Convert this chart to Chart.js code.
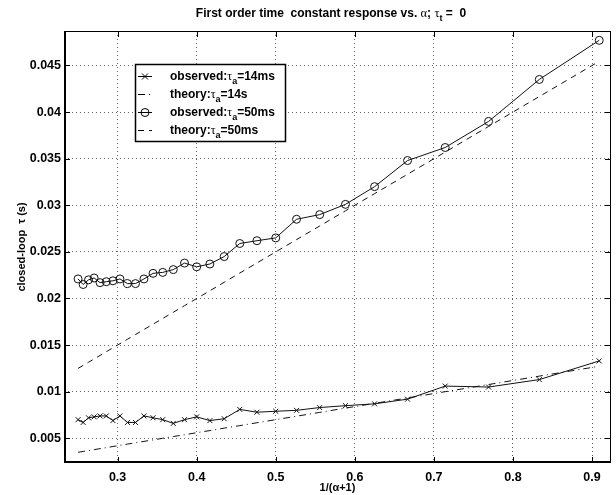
<!DOCTYPE html>
<html lang="en">
<head>
  <meta charset="UTF-8" />
  <title>First order time constant response</title>
  <script src="https://cdn.jsdelivr.net/npm/chart.js"></script>
  <style>
    html, body { margin: 0; padding: 0; background: #fff; }
    canvas { display: block; }
  </style>
</head>
<body>
  <canvas id="tauChart" width="616" height="495"></canvas>

  <script>
    // x = 1/(alpha+1), alpha = 3.0 ... 0.1
    const xVals = [0.25, 0.2564, 0.2632, 0.2703, 0.2778, 0.2857, 0.2941, 0.3030, 0.3125, 0.3226,
                   0.3333, 0.3448, 0.3571, 0.3704, 0.3846, 0.4, 0.4167, 0.4348, 0.4545, 0.4762,
                   0.5, 0.5263, 0.5556, 0.5882, 0.625, 0.6667, 0.7143, 0.7692, 0.8333, 0.9091];

    const observed14 = [0.0070, 0.0067, 0.0072, 0.0073, 0.0074, 0.0074, 0.0069, 0.0074, 0.0067, 0.0067,
                        0.0074, 0.0072, 0.0070, 0.0066, 0.0070, 0.0073, 0.0069, 0.0071, 0.0081, 0.0078,
                        0.0079, 0.0080, 0.0083, 0.0085, 0.0087, 0.0092, 0.0106, 0.0105, 0.0113, 0.0133];

    const theory14 = [0.0035, 0.00359, 0.00368, 0.00378, 0.00389, 0.0040, 0.00412, 0.00424, 0.00438, 0.00452,
                      0.00467, 0.00483, 0.0050, 0.00519, 0.00538, 0.0056, 0.00583, 0.00609, 0.00636, 0.00667,
                      0.0070, 0.00737, 0.00778, 0.00824, 0.00875, 0.00933, 0.0100, 0.01077, 0.01167, 0.01273];

    const observed50 = [0.0221, 0.0215, 0.0220, 0.0222, 0.0217, 0.0218, 0.0219, 0.0221, 0.0216, 0.0216,
                        0.0221, 0.0227, 0.0228, 0.0231, 0.0238, 0.0234, 0.0237, 0.0245, 0.0259, 0.0262,
                        0.0265, 0.0285, 0.0290, 0.0301, 0.0320, 0.0348, 0.0362, 0.0390, 0.0435, 0.0477];

    const theory50 = [0.0125, 0.01282, 0.01316, 0.01351, 0.01389, 0.01429, 0.01471, 0.01515, 0.01563, 0.01613,
                      0.01667, 0.01724, 0.01786, 0.01852, 0.01923, 0.0200, 0.02083, 0.02174, 0.02273, 0.02381,
                      0.0250, 0.02632, 0.02778, 0.02941, 0.03125, 0.03333, 0.03571, 0.03846, 0.04167, 0.04545];

    const xTicks = [0.3, 0.4, 0.5, 0.6, 0.7, 0.8, 0.9];
    const xTickLabels = ['0.3', '0.4', '0.5', '0.6', '0.7', '0.8', '0.9'];
    const yTicks = [0.005, 0.01, 0.015, 0.02, 0.025, 0.03, 0.035, 0.04, 0.045];
    const yTickLabels = ['0.005', '0.01', '0.015', '0.02', '0.025', '0.03', '0.035', '0.04', '0.045'];

    const SANS = "'Liberation Sans', Arial, Helvetica, sans-serif";
    const GREEK = "'Liberation Serif', 'DejaVu Serif', serif";

    const pts = ys => xVals.map((x, i) => ({ x: x, y: ys[i] }));

    // draws runs of text with different fonts / baseline shifts, returns end x
    function drawRich(ctx, parts, x, y) {
      parts.forEach(p => {
        ctx.font = p.font;
        ctx.fillText(p.t, x, y + (p.dy || 0));
        x += ctx.measureText(p.t).width;
      });
      return x;
    }
    function richWidth(ctx, parts) {
      let w = 0;
      parts.forEach(p => { ctx.font = p.font; w += ctx.measureText(p.t).width; });
      return w;
    }

    function drawMarker(ctx, style, x, y) {
      ctx.beginPath();
      if (style === 'crossRot') {
        const r = 3;
        ctx.moveTo(x - r, y - r); ctx.lineTo(x + r, y + r);
        ctx.moveTo(x - r, y + r); ctx.lineTo(x + r, y - r);
      } else {
        ctx.arc(x, y, 4, 0, Math.PI * 2);
      }
      ctx.stroke();
    }

    const legendItems = [
      { name: 'observed:', sub: 'a', rest: '=14ms', dash: [], marker: 'crossRot' },
      { name: 'theory:', sub: 'a', rest: '=14s', dash: [7, 4, 1, 4], marker: null },
      { name: 'observed:', sub: 'a', rest: '=50ms', dash: [], marker: 'circle' },
      { name: 'theory:', sub: 'a', rest: '=50ms', dash: [6, 5], marker: null }
    ];

    const matlabFrame = {
      id: 'matlabFrame',
      afterDatasetsDraw(chart) {
        const { ctx, chartArea: a, scales } = chart;
        ctx.save();
        ctx.strokeStyle = '#000';
        ctx.setLineDash([]);
        ctx.lineWidth = 1;
        ctx.strokeRect(a.left + 0.5, a.top + 0.5, a.right - a.left - 1, a.bottom - a.top - 1);
        ctx.lineWidth = 2;
        ctx.beginPath();
        ctx.moveTo(a.left + 1, a.top); ctx.lineTo(a.left + 1, a.bottom);
        ctx.moveTo(a.left, a.bottom - 1); ctx.lineTo(a.right, a.bottom - 1);
        ctx.stroke();
        ctx.lineWidth = 1;
        ctx.beginPath();
        xTicks.forEach(v => {
          const px = Math.round(scales.x.getPixelForValue(v)) + 0.5;
          ctx.moveTo(px, a.bottom); ctx.lineTo(px, a.bottom - 6);
          ctx.moveTo(px, a.top); ctx.lineTo(px, a.top + 6);
        });
        yTicks.forEach(v => {
          const py = Math.round(scales.y.getPixelForValue(v)) + 0.5;
          ctx.moveTo(a.left, py); ctx.lineTo(a.left + 6, py);
          ctx.moveTo(a.right, py); ctx.lineTo(a.right - 6, py);
        });
        ctx.stroke();
        ctx.restore();
      },
      afterDraw(chart) {
        const ctx = chart.ctx;
        ctx.save();
        ctx.fillStyle = '#000';
        ctx.textBaseline = 'alphabetic';
        ctx.textAlign = 'left';

        // title with greek letters and subscript
        const tb = 'bold 12px ' + SANS;
        const titleParts = [
          { t: 'First order time  constant response vs. ', font: tb },
          { t: 'α', font: '12.5px ' + GREEK },
          { t: '; ', font: tb },
          { t: 'τ', font: '12.5px ' + GREEK },
          { t: 't', font: 'bold 9px ' + SANS, dy: 4 },
          { t: ' =  0', font: tb }
        ];
        const tw = richWidth(ctx, titleParts);
        drawRich(ctx, titleParts, 331 - tw / 2, 17);

        // legend box
        const bx = 135.5, by = 64.5, bw = 150, bh = 77;
        ctx.fillStyle = '#fff';
        ctx.fillRect(bx, by, bw, bh);
        ctx.strokeStyle = '#000';
        ctx.lineWidth = 1.5;
        ctx.strokeRect(bx, by, bw, bh);
        ctx.fillStyle = '#000';
        ctx.lineWidth = 1;
        const rowY = [76, 94, 112, 130];
        legendItems.forEach((it, i) => {
          const y = rowY[i];
          ctx.setLineDash(it.dash);
          ctx.beginPath();
          ctx.moveTo(138, y + 0.5); ctx.lineTo(152, y + 0.5);
          ctx.stroke();
          ctx.setLineDash([]);
          if (it.marker) drawMarker(ctx, it.marker, 145, y + 0.5);
          drawRich(ctx, [
            { t: it.name, font: 'bold 12px ' + SANS },
            { t: 'τ', font: '12px ' + GREEK },
            { t: it.sub, font: 'bold 9px ' + SANS, dy: 4 },
            { t: it.rest, font: 'bold 12px ' + SANS }
          ], 170, y + 4);
        });
        ctx.restore();
      }
    };

    const lineBase = { borderColor: '#111', backgroundColor: 'rgba(0,0,0,0)', borderWidth: 1, fill: false, tension: 0 };

    const ctx = document.getElementById('tauChart').getContext('2d');
    const chart = new Chart(ctx, {
      type: 'line',
      data: {
        datasets: [
          Object.assign({}, lineBase, {
            label: 'observed: τa=14ms', data: pts(observed14),
            pointStyle: 'crossRot', pointRadius: 3.5, pointBorderWidth: 1,
            pointBorderColor: '#111', pointBackgroundColor: 'rgba(0,0,0,0)'
          }),
          Object.assign({}, lineBase, {
            label: 'theory: τa=14s', data: pts(theory14),
            borderDash: [7, 4, 1, 4], pointRadius: 0
          }),
          Object.assign({}, lineBase, {
            label: 'observed: τa=50ms', data: pts(observed50),
            pointStyle: 'circle', pointRadius: 4, pointBorderWidth: 1,
            pointBorderColor: '#111', pointBackgroundColor: 'rgba(0,0,0,0)'
          }),
          Object.assign({}, lineBase, {
            label: 'theory: τa=50ms', data: pts(theory50),
            borderDash: [6, 5], pointRadius: 0
          })
        ]
      },
      options: {
        responsive: false,
        animation: false,
        events: [],
        layout: { padding: { top: 31, right: 4, left: 0, bottom: 0 } },
        plugins: {
          legend: { display: false },
          title: { display: false },
          tooltip: { enabled: false }
        },
        scales: {
          x: {
            type: 'linear',
            min: 0.2322,
            max: 0.924,
            afterBuildTicks: s => { s.ticks = xTicks.map(v => ({ value: v })); },
            afterFit: s => { s.height = 32; },
            grid: { color: '#666', lineWidth: 1, drawTicks: false },
            border: { display: false, dash: [1, 3] },
            ticks: {
              padding: 7, color: '#000', maxRotation: 0, autoSkip: false,
              font: { family: SANS, size: 12.5, weight: 'bold' },
              callback: v => xTickLabels[xTicks.indexOf(v)]
            },
            title: {
              display: true, text: '1/(α+1)', color: '#000',
              padding: { top: 0, bottom: 0 },
              font: { family: SANS, size: 11, weight: 'bold' }
            }
          },
          y: {
            min: 0.00235,
            max: 0.0487,
            afterBuildTicks: s => { s.ticks = yTicks.map(v => ({ value: v })); },
            afterFit: s => { s.width = 64; },
            grid: { color: '#666', lineWidth: 1, drawTicks: false },
            border: { display: false, dash: [1, 3] },
            ticks: {
              padding: 3, color: '#000',
              font: { family: SANS, size: 12.5, weight: 'bold' },
              callback: v => yTickLabels[yTicks.indexOf(v)]
            },
            title: {
              display: true, text: 'closed-loop  τ (s)', color: '#000',
              padding: { top: 15, bottom: 0 },
              font: { family: SANS, size: 11, weight: 'bold' }
            }
          }
        }
      },
      plugins: [matlabFrame]
    });
  </script>
</body>
</html>
